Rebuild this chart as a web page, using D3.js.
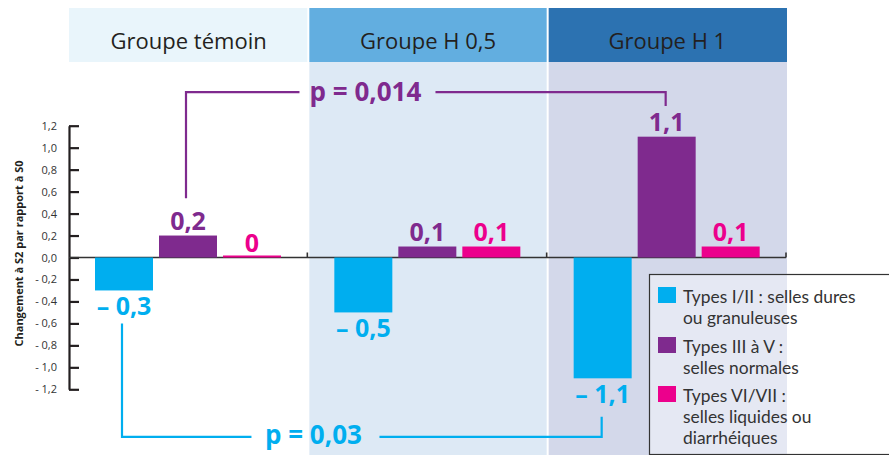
<!DOCTYPE html>
<html>
<head>
<meta charset="utf-8">
<script src="https://cdn.jsdelivr.net/npm/d3@7"></script>
<style>
  html, body { margin: 0; padding: 0; background: #fff; }
  svg { display: block; font-family: "Open Sans", "Noto Sans", sans-serif; }
</style>
</head>
<body>
<svg id="chart" width="889" height="455"></svg>
<script>
// ---------- DATA ----------
const groups = ["Groupe témoin", "Groupe H 0,5", "Groupe H 1"];
const seriesKeys = ["Types I/II", "Types III à V", "Types VI/VII"];
const valuesTypesI_II = [-0.3, -0.5, -1.1];
const valuesTypesIII_V = [0.2, 0.1, 1.1];
const valuesTypesVI_VII = [0, 0.1, 0.1];
const yTickValues = [-1.2, -1.0, -0.8, -0.6, -0.4, -0.2, 0, 0.2, 0.4, 0.6, 0.8, 1.0, 1.2];
const legendLabels = [
  ["Types I/II : selles dures", "ou granuleuses"],
  ["Types III à V :", "selles normales"],
  ["Types VI/VII :", "selles liquides ou", "diarrhéiques"]
];
const yAxisTitle = "Changement à S2 par rapport à S0";
const comparisonSeries = [1, 0];
const comparisonFrom = [0, 0];
const comparisonTo = [2, 2];
const comparisonLabels = ["p = 0,014", "p = 0,03"];

// ---------- STYLE / LAYOUT ----------
const W = 889, H = 455;
const seriesColors = ["#00aeef", "#7f2a8e", "#ec008c"];
const headerColors = ["#e9f5fb", "#62aee0", "#2c72b1"];
const bodyColors = ["#ffffff", "#dde9f5", "#d3d8ea"];
const headerTop = 8, headerBottom = 62;
const axisX = 69, plotRight = 787;
// bracket layout (in value units for y, fraction along bracket for label)
const bracketLevel = [1.505, -1.633];
const bracketStartEnd = [0.54, -0.6];
const bracketEndEnd = [1.38, -1.45];
const bracketLabelFrac = [0.37, 0.395];
const bracketLabelHalfGap = [64, 60];

const series = [valuesTypesI_II, valuesTypesIII_V, valuesTypesVI_VII];

const svg = d3.select("#chart");

const x0 = d3.scaleBand().domain(groups).range([axisX, plotRight]).padding(0);
const x1 = d3.scaleBand().domain(seriesKeys).range([26, 212]).paddingInner(6 / 64).paddingOuter(0);
const y = d3.scaleLinear().domain([-1.2, 1.2]).range([389.3, 125.7]);

const fmt = v => d3.format(".1f")(v).replace(".", ",");
const valueLabel = v => v === 0 ? "0" : (v < 0 ? "– " + fmt(-v) : fmt(v));
const tickLabel = v => Math.abs(v) < 1e-9 ? "0,0" : (v < 0 ? "- " + fmt(-v) : fmt(v));

// ---------- Group backgrounds ----------
const bg = svg.append("g");
groups.forEach((g, i) => {
  const gx = x0(g) + (i === 0 ? 0 : 1);
  const gw = x0.bandwidth() - (i === 0 ? 0 : 1) - (i === groups.length - 1 ? 0 : 1);
  bg.append("rect").attr("x", gx).attr("y", headerBottom).attr("width", gw)
    .attr("height", H - headerBottom).attr("fill", bodyColors[i]);
  bg.append("rect").attr("x", gx).attr("y", headerTop).attr("width", gw)
    .attr("height", headerBottom - headerTop).attr("fill", headerColors[i]);
  bg.append("text").attr("x", x0(g) + x0.bandwidth() / 2).attr("y", 49)
    .attr("text-anchor", "middle").attr("font-size", 22).attr("fill", "#231f20")
    .text(g);
});

// ---------- Y axis ----------
const yAxis = d3.axisLeft(y).tickValues(yTickValues).tickSizeInner(-10).tickSizeOuter(0)
  .tickPadding(12).tickFormat(tickLabel);
const ya = svg.append("g").attr("transform", `translate(${axisX},0)`).call(yAxis);
ya.select(".domain").attr("stroke", "#231f20").attr("stroke-width", 2.2);
ya.selectAll(".tick line").attr("stroke", "#231f20").attr("stroke-width", 2.2);
ya.selectAll(".tick text").attr("font-size", 11).attr("fill", "#333").attr("font-family", "'Open Sans', sans-serif");

svg.append("text")
  .attr("transform", `translate(23,${y(0) - 4}) rotate(-90)`)
  .attr("text-anchor", "middle").attr("font-size", 11).attr("font-weight", "bold")
  .attr("fill", "#231f20").text(yAxisTitle);

// ---------- Zero line ----------
svg.append("line").attr("x1", axisX).attr("x2", plotRight - 1)
  .attr("y1", y(0)).attr("y2", y(0)).attr("stroke", "#333").attr("stroke-width", 1.6);
groups.forEach((g, i) => {
  const bx = x0(g) + x0.bandwidth() - 1;
  svg.append("line").attr("x1", bx).attr("x2", bx).attr("y1", y(0) - 5).attr("y2", y(0))
    .attr("stroke", "#333").attr("stroke-width", 1.6);
});

// ---------- Bars ----------
const barsG = svg.append("g");
groups.forEach((g, gi) => {
  seriesKeys.forEach((s, si) => {
    const v = series[si][gi];
    const bx = x0(g) + x1(s);
    const top = Math.min(y(v), y(0));
    const h = Math.max(Math.abs(y(v) - y(0)), 2);
    barsG.append("rect").attr("x", bx).attr("width", x1.bandwidth())
      .attr("y", v === 0 ? y(0) - 2 : top).attr("height", h)
      .attr("fill", seriesColors[si]);
    const cx = bx + x1.bandwidth() / 2;
    const ly = v >= 0 ? y(v) - 6 : y(v) + 25;
    barsG.append("text").attr("x", cx).attr("y", ly).attr("text-anchor", "middle")
      .attr("font-size", 25).attr("font-weight", "bold").attr("fill", seriesColors[si])
      .text(valueLabel(v));
  });
});

// ---------- Significance brackets ----------
comparisonLabels.forEach((lab, k) => {
  const si = comparisonSeries[k];
  const s = seriesKeys[si];
  const xa = x0(groups[comparisonFrom[k]]) + x1(s) + x1.bandwidth() / 2 - 2;
  const xb = x0(groups[comparisonTo[k]]) + x1(s) + x1.bandwidth() / 2 - 1;
  const yl = y(bracketLevel[k]);
  const ya0 = y(bracketStartEnd[k]);
  const yb0 = y(bracketEndEnd[k]);
  const xm = xa + (xb - xa) * bracketLabelFrac[k];
  const gap = bracketLabelHalfGap[k];
  const col = seriesColors[si];
  const g = svg.append("g").attr("fill", "none").attr("stroke", col).attr("stroke-width", 2.2);
  g.append("path").attr("d", `M${xa},${ya0}V${yl}H${xm - gap}`);
  g.append("path").attr("d", `M${xm + gap + 8},${yl}H${xb}V${yb0}`);
  svg.append("text").attr("x", xm + 2).attr("y", yl + (k === 0 ? 9 : 7)).attr("text-anchor", "middle")
    .attr("font-size", 26).attr("font-weight", "bold").attr("fill", col).text(lab);
});

// ---------- Legend ----------
const lg = svg.append("g").attr("transform", "translate(649,274)");
lg.append("rect").attr("x", 0.5).attr("y", 0.5).attr("width", 260).attr("height", 180)
  .attr("fill", "#ffffff").attr("fill-opacity", 0.42).attr("stroke", "#333").attr("stroke-width", 1.2);
const swatchY = [13, 63, 112];
legendLabels.forEach((lines, i) => {
  lg.append("rect").attr("x", 9).attr("y", swatchY[i]).attr("width", 18).attr("height", 16)
    .attr("fill", seriesColors[i]);
  const t = lg.append("text").attr("x", 34).attr("y", swatchY[i] + 16)
    .attr("font-family", "Lato, 'Open Sans', sans-serif")
    .attr("font-size", 17.4).attr("font-weight", 400).attr("fill", "#333");
  lines.forEach((line, j) => {
    t.append("tspan").attr("x", 34).attr("dy", j === 0 ? 0 : 21).text(line);
  });
});
</script>
</body>
</html>
